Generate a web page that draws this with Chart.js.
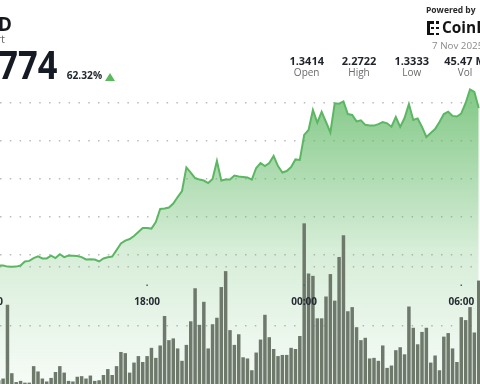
<!DOCTYPE html>
<html>
<head>
<meta charset="utf-8">
<script src="https://cdn.jsdelivr.net/npm/chart.js@4/dist/chart.umd.min.js"></script>
<style>
  html, body { margin:0; padding:0; background:#fff; overflow:hidden; }
  #wrap { position:relative; width:480px; height:384px; overflow:hidden; background:#fff; font-family:"Open Sans", "Liberation Sans", sans-serif; }
  #c { position:absolute; left:0; top:0; }
  .t { position:absolute; white-space:nowrap; line-height:1; }
  .col { position:absolute; width:60px; text-align:center; white-space:nowrap; line-height:1; }
  .v { font-weight:700; font-size:11px; color:#1f2329; }
  .l { font-size:10px; color:#6a6a6a; }
  .lg { position:absolute; background:#111; }
</style>
</head>
<body>
<div id="wrap">
  <canvas id="c" width="480" height="386"></canvas>

  <div class="t" style="right:468px; top:15px; font-size:18.8px; font-weight:700; color:#15191f;">XRP/USD</div>
  <div class="t" style="right:475px; top:33px; font-size:11px; color:#666;">Price Chart</div>
  <div class="t" style="right:423px; top:44.8px; font-size:39.6px; font-weight:700; color:#151a24; transform:scaleX(0.87); transform-origin:right center;">2.1774</div>
  <div class="t" style="left:66.7px; top:70.2px; font-size:10.2px; font-weight:700; color:#222831;">62.32%</div>
  <div style="position:absolute; left:105px; top:72.7px; width:0; height:0; border-left:5.3px solid transparent; border-right:5.3px solid transparent; border-bottom:8px solid #5cb85c;"></div>

  <div class="t" style="left:426px; top:5.5px; font-size:8.5px; font-weight:700; color:#2a2a2a;">Powered by</div>
  <div class="lg" style="left:427px; top:21px; width:2.5px; height:14px;"></div>
  <div class="lg" style="left:427px; top:21px; width:7px; height:2.5px;"></div>
  <div class="lg" style="left:427px; top:32.5px; width:7px; height:2.5px;"></div>
  <div class="lg" style="left:430.5px; top:26.8px; width:3.5px; height:2.5px;"></div>
  <div class="lg" style="left:436px; top:21px; width:2.5px; height:2.5px;"></div>
  <div class="lg" style="left:436px; top:26.8px; width:2.5px; height:2.5px;"></div>
  <div class="lg" style="left:436px; top:32.5px; width:2.5px; height:2.5px;"></div>
  <div class="t" style="left:442px; top:19.5px; font-size:15.4px; font-weight:700; color:#141414;">CoinDesk</div>
  <div class="t" style="left:432px; top:40.5px; font-size:9.8px; color:#8a8a8a;">7 Nov 2025</div>

  <div class="col v" style="left:276.7px; top:54.8px;">1.3414</div>
  <div class="col l" style="left:276.7px; top:66.6px;">Open</div>
  <div class="col v" style="left:329px; top:54.8px;">2.2722</div>
  <div class="col l" style="left:329px; top:66.6px;">High</div>
  <div class="col v" style="left:381.7px; top:54.8px;">1.3333</div>
  <div class="col l" style="left:381.7px; top:66.6px;">Low</div>
  <div class="col v" style="left:435px; top:54.8px;">45.47 M</div>
  <div class="col l" style="left:435px; top:66.6px;">Vol</div>
</div>

<script>
// ---- data ----
const firstSlot = "12:20";      // first 10-minute slot
const slotStep = 10;            // minutes per slot

const price = [
  1.345,
  1.345, 1.339, 1.338, 1.339, 1.345, 1.366, 1.369, 1.384, 1.393, 1.382,
  1.382, 1.397, 1.384, 1.404, 1.389, 1.397, 1.396, 1.395, 1.389, 1.377,
  1.378, 1.376, 1.366, 1.382, 1.388, 1.392, 1.426, 1.461, 1.476, 1.484,
  1.500, 1.521, 1.542, 1.542, 1.539, 1.574, 1.642, 1.645, 1.650, 1.671,
  1.705, 1.737, 1.861, 1.834, 1.805, 1.797, 1.792, 1.779, 1.800, 1.895,
  1.792, 1.797, 1.797, 1.818, 1.813, 1.811, 1.808, 1.797, 1.858, 1.884,
  1.868, 1.884, 1.921, 1.868, 1.834, 1.842, 1.863, 1.903, 1.900, 2.032,
  2.058, 2.163, 2.097, 2.153, 2.100, 2.045, 2.198, 2.196, 2.208, 2.142,
  2.137, 2.103, 2.109, 2.085, 2.082, 2.081, 2.089, 2.100, 2.093, 2.075,
  2.126, 2.074, 2.121, 2.195, 2.111, 2.119, 2.074, 2.021, 2.042, 2.063,
  2.100, 2.142, 2.154, 2.132, 2.129, 2.145, 2.200, 2.271, 2.258, 2.174
];

const volume = [
  0.08,
  0.11, 1.36, 0.20, 0.05, 0.07, 0.04, 0.04, 0.32, 0.23, 0.11,
  0.06, 0.12, 0.22, 0.32, 0.21, 0.07, 0.06, 0.14, 0.15, 0.11,
  0.16, 0.07, 0.08, 0.17, 0.27, 0.17, 0.32, 0.56, 0.54, 0.21,
  0.38, 0.49, 0.39, 0.49, 0.63, 0.46, 0.67, 1.17, 0.76, 0.79,
  0.62, 0.41, 0.68, 1.08, 1.64, 1.02, 1.41, 0.62, 1.03, 1.14,
  1.66, 1.93, 0.93, 0.68, 0.86, 0.47, 0.45, 0.25, 0.55, 0.77,
  1.19, 0.81, 0.61, 0.49, 0.51, 0.51, 0.63, 0.61, 0.83, 2.74,
  1.89, 1.85, 1.13, 1.13, 1.50, 1.88, 1.43, 2.17, 2.54, 1.25,
  1.32, 0.98, 0.76, 0.80, 0.45, 0.46, 0.41, 0.67, 0.29, 0.33,
  0.59, 0.64, 0.52, 1.33, 0.97, 0.69, 0.90, 0.97, 0.38, 0.50,
  0.25, 0.82, 0.88, 0.62, 0.39, 1.15, 1.10, 1.32, 0.89, 1.77
];

const timeTickLabels = ["12:00", "18:00", "00:00", "06:00"];
const priceGridValues = [1.4, 1.6, 1.8, 2.0, 2.2];
const volumeGridValues = [1, 2];

// ---- helpers ----
const toMin = s => { const [h, m] = s.split(':').map(Number); return h * 60 + m; };
const slots = price.map((_, i) => toMin(firstSlot) + i * slotStep);
const tickMinutes = [];
timeTickLabels.forEach((l, i) => {
  let m = toMin(l);
  if (i > 0 && m < tickMinutes[i - 1]) m += 1440;
  tickMinutes.push(m);
});

const gridColor = 'rgba(150,150,150,0.65)';

const timeLabelsPlugin = {
  id: 'timeLabels',
  afterDatasetsDraw(chart) {
    const c = chart.ctx, xs = chart.scales.x;
    c.save();
    c.font = '700 10px "Open Sans", "Liberation Sans", sans-serif';
    c.textAlign = 'center';
    c.textBaseline = 'middle';
    timeTickLabels.forEach((lab, i) => {
      const x = xs.getPixelForValue(tickMinutes[i]);
      c.fillStyle = '#5a5f66';
      c.fillRect(x - 0.75, 284.5, 1.5, 1.5);
      c.fillStyle = '#262c34';
      c.fillText(lab, x, 302);
    });
    c.restore();
  }
};

const ctx = document.getElementById('c').getContext('2d');
new Chart(ctx, {
  type: 'bar',
  data: {
    labels: slots,
    datasets: [
      {
        type: 'bar',
        data: volume,
        yAxisID: 'yv',
        backgroundColor: '#6e796c',
        borderWidth: 0,
        barPercentage: 0.8,
        categoryPercentage: 1,
        order: 0
      },
      {
        type: 'line',
        data: price,
        yAxisID: 'yp',
        borderColor: '#5db664',
        borderWidth: 2,
        pointRadius: 0,
        tension: 0,
        fill: 'start',
        backgroundColor: (context) => {
          const ch = context.chart;
          if (!ch.chartArea) return 'rgba(95,185,100,0.3)';
          const g = ch.ctx.createLinearGradient(0, 85, 0, 385);
          g.addColorStop(0, 'rgba(95,185,100,0.80)');
          g.addColorStop(0.32, 'rgba(95,185,100,0.48)');
          g.addColorStop(0.55, 'rgba(95,185,100,0.25)');
          g.addColorStop(0.82, 'rgba(95,185,100,0.13)');
          g.addColorStop(1, 'rgba(95,185,100,0.06)');
          return g;
        },
        order: 1
      }
    ]
  },
  options: {
    responsive: false,
    animation: false,
    events: [],
    layout: { padding: { top: 0, left: 0, right: 0, bottom: 1 } },
    plugins: { legend: { display: false }, tooltip: { enabled: false } },
    scales: {
      x: { type: 'linear', display: false, min: 742.9, max: 1842.9, offset: false },
      yp: {
        position: 'left', min: 0.716, max: 2.742,
        ticks: { display: false },
        grid: { color: gridColor, lineWidth: 1.5, drawTicks: false },
        border: { display: false, dash: [1.5, 8.3] },
        afterBuildTicks: s => { s.ticks = priceGridValues.map(v => ({ value: v })); },
        afterFit: s => { s.width = 0; }
      },
      yv: {
        position: 'right', min: 0, max: 6.525,
        ticks: { display: false },
        grid: { color: gridColor, lineWidth: 1.5, drawTicks: false },
        border: { display: false, dash: [1.5, 8.3] },
        afterBuildTicks: s => { s.ticks = volumeGridValues.map(v => ({ value: v })); },
        afterFit: s => { s.width = 0; }
      }
    }
  },
  plugins: [timeLabelsPlugin]
});
</script>
</body>
</html>
